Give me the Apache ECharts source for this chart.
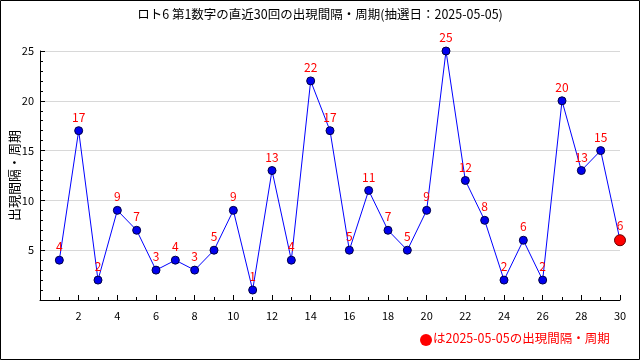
<!DOCTYPE html>
<html><head><meta charset="utf-8">
<script src="https://cdn.jsdelivr.net/npm/echarts@6/dist/echarts.min.js"></script>
<style>html,body{margin:0;padding:0;background:#fff}#c{width:640px;height:360px}</style>
</head><body><div id="c"></div>
<script>
const titleText = 'ロト6 第1数字の直近30回の出現間隔・周期(抽選日：2025-05-05)';
const draws = [1,2,3,4,5,6,7,8,9,10,11,12,13,14,15,16,17,18,19,20,21,22,23,24,25,26,27,28,29,30];
const intervals = [4,17,2,9,7,3,4,3,5,9,1,13,4,22,17,5,11,7,5,9,25,12,8,2,6,2,20,13,15,6];
const yName = '出現間隔・周期';
const legendText = 'は2025-05-05の出現間隔・周期';
const font = '"Noto Sans CJK JP", "DejaVu Sans Mono", monospace';

const data = draws.map((d, i) => {
  const isLast = i === draws.length - 1;
  return {
    value: [d, intervals[i]],
    symbolSize: isLast ? 11 : 8,
    itemStyle: isLast ? {color: '#ff0000', borderColor: '#600', borderWidth: 1} : {color: '#0000ee', borderColor: '#000044', borderWidth: 1}
  };
});

const chart = echarts.init(document.getElementById('c'));
chart.setOption({
  animation: false,
  backgroundColor: '#fff',
  title: {text: titleText, left: 'center', top: 3, textStyle: {fontFamily: font, fontSize: 12.5, fontWeight: 'normal', color: '#000'}},
  grid: {left: 40, right: 20, top: 51, bottom: 60, containLabel: false, outerBoundsMode: 'none'},
  xAxis: {
    type: 'value', min: 0, max: 30, interval: 2,
    axisLine: {lineStyle: {color: '#000'}},
    axisTick: {show: true, inside: true, length: 5, lineStyle: {color: '#000'}},
    minorTick: {show: true, splitNumber: 2, length: 3, lineStyle: {color: '#000'}},
    splitLine: {show: false},
    axisLabel: {color: '#000', fontFamily: font, fontSize: 11, margin: 10, formatter: v => v === 0 ? '' : v}
  },
  yAxis: {
    type: 'value', min: 0, max: 25, interval: 5,
    name: yName, nameLocation: 'middle', nameGap: 19, nameRotate: 90, nameMoveOverlap: false,
    nameTextStyle: {fontFamily: font, fontSize: 13, color: '#000'},
    axisLine: {show: true, lineStyle: {color: '#000'}},
    axisTick: {show: true, inside: true, length: 5, lineStyle: {color: '#000'}},
    minorTick: {show: true, splitNumber: 5, length: 3, lineStyle: {color: '#000'}},
    splitLine: {show: true, lineStyle: {color: '#d8d8d8'}},
    axisLabel: {color: '#000', fontFamily: font, fontSize: 11, margin: 6, formatter: v => v === 0 ? '' : v}
  },
  series: [{
    type: 'line',
    data: data,
    symbol: 'circle',
    lineStyle: {color: '#0000ff', width: 1},
    label: {show: true, position: 'top', distance: 3, color: '#ff0000', fontFamily: font, fontSize: 12, formatter: p => p.value[1]}
  }],
  graphic: [
    {type: 'rect', shape: {x: 0.5, y: 0.5, width: 639, height: 359}, style: {fill: 'none', stroke: '#000', lineWidth: 1}},
    {type: 'circle', shape: {cx: 426, cy: 340, r: 6}, style: {fill: '#ff0000'}},
    {type: 'text', left: 433, top: 332, style: {text: legendText, fill: '#ff0000', font: '12.5px ' + font}}
  ]
});
</script></body></html>
